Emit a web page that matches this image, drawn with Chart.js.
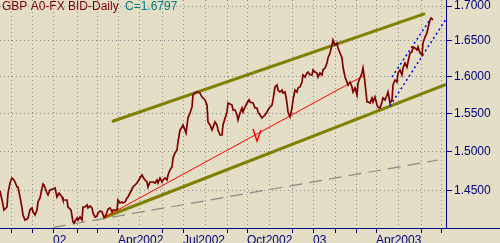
<!DOCTYPE html>
<html lang="en">
<head>
  <meta charset="UTF-8">
  <title>GBP A0-FX BID-Daily</title>
  <script src="https://cdn.jsdelivr.net/npm/chart.js"></script>
  <style>
    html, body { margin: 0; padding: 0; background: #e3dec5; overflow: hidden; }
    canvas { display: block; background: #e3dec5; }
  </style>
</head>
<body>
  <canvas id="fxChart" width="500" height="243"></canvas>

  <script>
    // bar number (trading day) and daily close
    const bars = [0,2,4,7,8,10,12,14,15,17,18,20,22,23,25,27,28,30,32,33,35,37,38,40,43,44,47,48,50,53,55,57,59,62,63,67,68,71,73,74,77,78,80,82,83,85,87,88,90,92,93,95,97,98,100,102,104,105,107,108,110,112,113,117,118,120,122,123,125,127,128,130,133,137,140,142,143,145,147,148,150,153,155,157,158,160,162,163,165,167,168,170,172,173,175,177,178,180,182,183,185,186,188,190,192,193,195,197,198,200,202,205,207,208,210,212,215,217,218,220,222,223,227,228,232,233,235,237,238,240,242,243,245,247,249,250,253,255,257,258,260,262,263,265,267,268,270,272,273,275,277,278,280,282,283,285,286,287,288,290,292,293,295,297,298,300,302,303,305,307,308,310,312,313,315,317,318,320,322,323,325,327,328,330,332,333,335,337,338,340,342,343,345,347,348,350,352,353,355,357,358,360,362,363,364,365,367,368,370,372,373,375,377,378,380,382,383,385,387,388,390,392,393,395,397,398,400,402,403,405,407,408,410,412,413,415,417,418,420,422,423,425,427,428,430,431,433];
    const closes = [1.4497,1.4385,1.4262,1.4299,1.4472,1.4597,1.4660,1.4635,1.4610,1.4547,1.4547,1.4423,1.4287,1.4201,1.4140,1.4152,1.4164,1.4262,1.4287,1.4238,1.4201,1.4262,1.4361,1.4410,1.4585,1.4572,1.4472,1.4447,1.4510,1.4522,1.4535,1.4423,1.4472,1.4423,1.4385,1.4385,1.4299,1.4262,1.4116,1.4103,1.4164,1.4140,1.4176,1.4140,1.4299,1.4299,1.4324,1.4287,1.4311,1.4287,1.4225,1.4176,1.4188,1.4225,1.4250,1.4238,1.4176,1.4176,1.4238,1.4274,1.4287,1.4238,1.4262,1.4262,1.4385,1.4348,1.4361,1.4348,1.4361,1.4410,1.4423,1.4472,1.4547,1.4597,1.4660,1.4698,1.4673,1.4635,1.4610,1.4547,1.4610,1.4610,1.4597,1.4635,1.4597,1.4660,1.4610,1.4635,1.4660,1.4635,1.4698,1.4762,1.4800,1.4915,1.4979,1.5018,1.5122,1.5279,1.5318,1.5345,1.5279,1.5240,1.5438,1.5504,1.5584,1.5746,1.5773,1.5787,1.5787,1.5773,1.5719,1.5679,1.5611,1.5385,1.5345,1.5279,1.5385,1.5345,1.5279,1.5213,1.5213,1.5345,1.5518,1.5638,1.5611,1.5544,1.5544,1.5477,1.5411,1.5504,1.5571,1.5518,1.5584,1.5638,1.5679,1.5652,1.5638,1.5571,1.5571,1.5518,1.5477,1.5438,1.5451,1.5477,1.5518,1.5544,1.5584,1.5611,1.5679,1.5855,1.5882,1.5814,1.5787,1.5814,1.5773,1.5787,1.5719,1.5638,1.5518,1.5451,1.5571,1.5679,1.5814,1.5787,1.5841,1.5855,1.5923,1.6020,1.5992,1.6047,1.6061,1.6020,1.6020,1.6089,1.6061,1.6047,1.5992,1.6047,1.6020,1.6089,1.6117,1.6186,1.6256,1.6326,1.6439,1.6510,1.6439,1.6467,1.6396,1.6326,1.6256,1.6130,1.5992,1.5923,1.5882,1.5923,1.5855,1.5787,1.5841,1.5746,1.5910,1.5978,1.6047,1.6117,1.6020,1.5910,1.5652,1.5652,1.5638,1.5706,1.5652,1.5719,1.5611,1.5584,1.5571,1.5652,1.5706,1.5679,1.5746,1.5787,1.5638,1.5679,1.5882,1.5951,1.5923,1.6047,1.6089,1.6020,1.6117,1.6186,1.6130,1.6200,1.6326,1.6340,1.6411,1.6396,1.6368,1.6411,1.6326,1.6298,1.6467,1.6552,1.6610,1.6681,1.6797,1.6825,1.6797];

    // trend lines drawn on the chart: [bar, price] end points
    const channelTop = [[112, 1.5391], [425, 1.6890]];
    const channelBottom = [[103, 1.4164], [446, 1.5892]];
    const regression = [[103, 1.4164], [365, 1.6020]];
    const longTrend = [[53, 1.4049], [438, 1.4889]];
    const fastTop = [[392, 1.5992], [431, 1.6825]];
    const fastBottom = [[390, 1.5598], [446, 1.6811]];
    const checkMark = [[253, 1.5292], [257, 1.5135], [261, 1.5279]];

    // axes
    const monthBars = [11,32,53,77,97,118,139,162,183,205,227,247,269,292,313,335,356,376,398,421,441];
    const monthLabels = { 53: '02', 118: 'Apr2002', 183: 'Jul2002', 247: 'Oct2002', 313: '03', 376: 'Apr2003' };
    const hiddenTicks = [139, 205, 269, 398];
    const priceTicks = [1.45, 1.50, 1.55, 1.60, 1.65, 1.70];

    const navy = '#000080';
    const font = { family: "'Liberation Sans', Arial, sans-serif", size: 12 };
    const pts = arr => arr.map(p => ({ x: p[0], y: p[1] }));

    const line = (data, color, width, dash) => ({
      data, borderColor: color, borderWidth: width, borderDash: dash || [],
      pointRadius: 0, tension: 0, fill: false
    });

    const headerPlugin = {
      id: 'header',
      afterDatasetsDraw(chart) {
        const { ctx, chartArea } = chart;
        ctx.save();
        ctx.font = `${font.size}px ${font.family}`;
        ctx.textBaseline = 'top';
        ctx.fillStyle = '#800000';
        ctx.fillText('GBP A0-FX BID-Daily', 2, 1);
        ctx.fillStyle = '#008080';
        ctx.fillText('C=' + closes[closes.length - 1].toFixed(4), 125, 1);
        // bottom axis carries on under the price labels
        ctx.strokeStyle = navy;
        ctx.lineWidth = 1;
        ctx.beginPath();
        ctx.moveTo(chartArea.right, chartArea.bottom + 0.5);
        ctx.lineTo(chart.width, chartArea.bottom + 0.5);
        ctx.stroke();
        ctx.restore();
      }
    };

    new Chart(document.getElementById('fxChart').getContext('2d'), {
      type: 'line',
      data: {
        datasets: [
          line(bars.map((b, i) => ({ x: b, y: closes[i] })), '#800000', 1.7),
          line(pts(checkMark), '#ff0000', 1.5),
          line(pts(fastTop), '#0000ff', 1.5, [2, 3]),
          line(pts(fastBottom), '#0000ff', 1.5, [2, 3]),
          line(pts(regression), '#ff0000', 1),
          line(pts(channelTop), '#808000', 3),
          line(pts(channelBottom), '#808000', 3),
          line(pts(longTrend), '#8a8a8a', 1.2, [13, 7])
        ]
      },
      options: {
        responsive: false,
        animation: false,
        devicePixelRatio: 1,
        layout: { padding: 0 },
        plugins: { legend: { display: false }, tooltip: { enabled: false } },
        scales: {
          x: {
            type: 'linear', min: 0, max: 446, bounds: 'data',
            afterBuildTicks: s => { s.ticks = monthBars.map(v => ({ value: v })); },
            afterFit: s => { s.height = 15; s.paddingLeft = 0; s.paddingRight = 0; },
            ticks: {
              autoSkip: false, maxRotation: 0, minRotation: 0, align: 'start', padding: 0,
              color: navy, font,
              callback: v => monthLabels[v] || ''
            },
            grid: {
              color: '#8a8a8a', lineWidth: 1, tickLength: 5,
              tickColor: ctx => (ctx.tick && hiddenTicks.includes(ctx.tick.value)) ? 'rgba(0,0,0,0)' : navy
            },
            border: { color: navy, width: 1, dash: [1, 3] }
          },
          y: {
            type: 'logarithmic', position: 'right', min: 1.40425, max: 1.70884, bounds: 'data',
            afterBuildTicks: s => { s.ticks = priceTicks.map(v => ({ value: v })); },
            afterFit: s => { s.width = 54; s.paddingTop = 0; s.paddingBottom = 0; },
            ticks: { padding: 2, color: navy, font, callback: v => Number(v).toFixed(4) },
            grid: { color: '#8a8a8a', lineWidth: 1, tickLength: 6, tickColor: navy },
            border: { color: navy, width: 1, dash: [1, 3] }
          }
        }
      },
      plugins: [headerPlugin]
    });
  </script>
</body>
</html>
